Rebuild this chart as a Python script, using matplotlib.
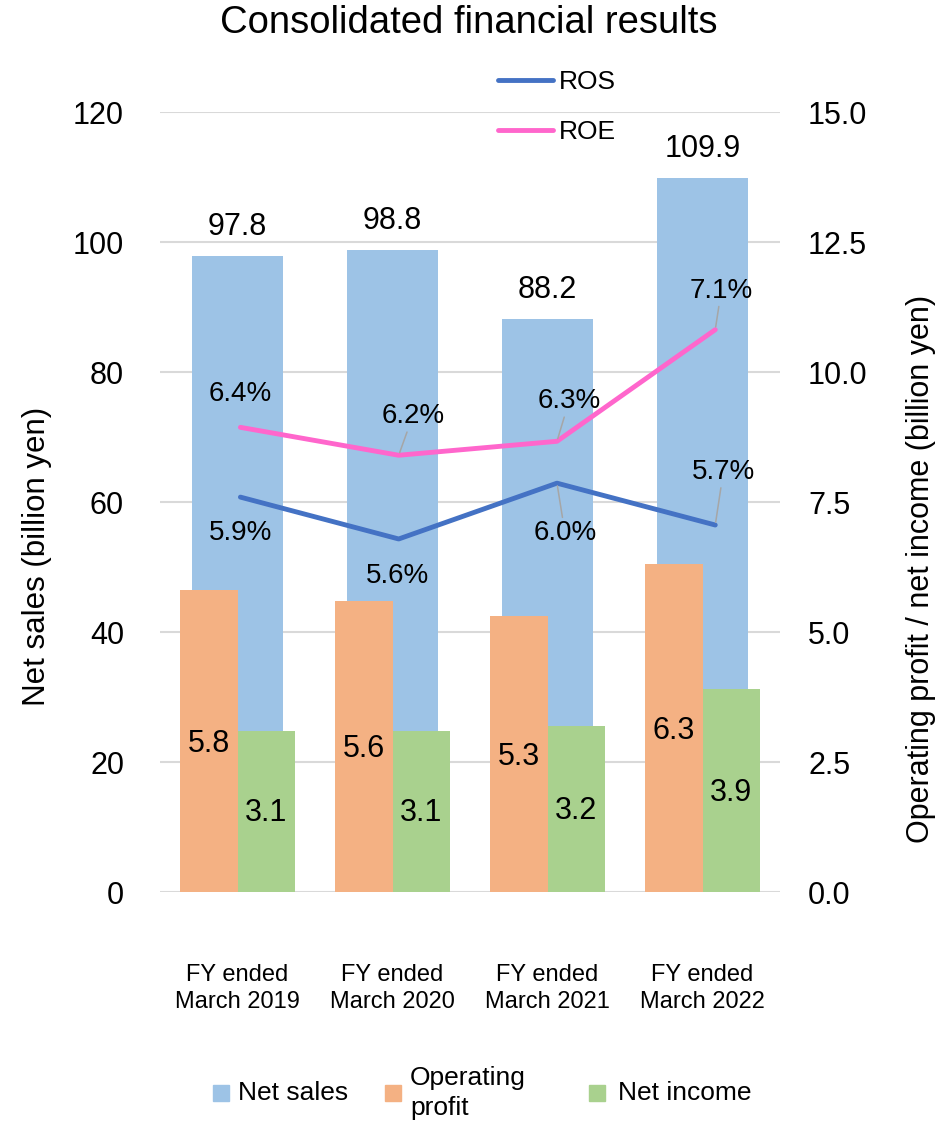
import matplotlib
matplotlib.use("Agg")
import matplotlib.pyplot as plt
from matplotlib.patches import Rectangle
import numpy as np

plt.rcParams['font.family'] = ['Liberation Sans', 'DejaVu Sans']

# ---- data ----
categories = ["FY ended\nMarch 2019", "FY ended\nMarch 2020",
              "FY ended\nMarch 2021", "FY ended\nMarch 2022"]
net_sales = [97.8, 98.8, 88.2, 109.9]          # billion yen (left axis)
operating_profit = [5.8, 5.6, 5.3, 6.3]        # billion yen (right axis)
net_income = [3.1, 3.1, 3.2, 3.9]              # billion yen (right axis)
ros = [5.9, 5.6, 6.0, 5.7]                     # %
roe = [6.4, 6.2, 6.3, 7.1]                     # %
left_ticks = [0, 20, 40, 60, 80, 100, 120]
right_ticks = [0.0, 2.5, 5.0, 7.5, 10.0, 12.5, 15.0]

# ---- styling ----
BLUE = '#9dc3e6'
ORANGE = '#f4b183'
GREEN = '#a9d18e'
ROS_C = '#4472c4'
ROE_C = '#ff66cc'
GRID = '#d9d9d9'
LEADER = '#a6a6a6'

W, H, DPI = 947, 1121, 100
fig = plt.figure(figsize=(W / DPI, H / DPI), dpi=DPI)


def fx(px):
    return px / W


def fy(py):
    return 1 - py / H


def pt(px):
    return px * 72 / DPI


L, R, T, B = 160, 780, 112, 892
rect = [fx(L), fy(B), fx(R) - fx(L), fy(T) - fy(B)]

x = np.arange(len(categories))

# Net sales on the primary axis
ax = fig.add_axes(rect)
ax.bar(x, net_sales, width=0.59, color=BLUE, zorder=2)
ax.set_xlim(-0.5, 3.5)
ax.set_ylim(0, 120)
ax.set_yticks(left_ticks)
ax.grid(axis='y', color=GRID, lw=1.5, zorder=0)
ax.set_axisbelow(True)
for s in ax.spines.values():
    s.set_visible(False)
ax.tick_params(axis='both', length=0)
ax.tick_params(axis='y', labelsize=22, pad=pt(36))
ax.set_xticks(x)
ax.set_xticklabels(categories, fontsize=17, linespacing=1.3)
ax.tick_params(axis='x', pad=pt(72))
for xi, v in zip(x, net_sales):
    ax.annotate(f"{v:.1f}", (xi, v), xytext=(0, pt(29)), textcoords='offset points',
                ha='center', va='center', fontsize=22)

# Operating profit / net income on the secondary axis
ax2 = ax.twinx()
bw = 0.37
ax2.bar(x - bw / 2, operating_profit, width=bw, color=ORANGE, zorder=2)
ax2.bar(x + bw / 2, net_income, width=bw, color=GREEN, zorder=2)
ax2.set_ylim(0, 15)
ax2.set_yticks(right_ticks)
ax2.set_yticklabels([f"{t:.1f}" for t in right_ticks])
for s in ax2.spines.values():
    s.set_visible(False)
ax2.tick_params(axis='y', length=0, labelsize=22, pad=pt(28))
for xi, v in zip(x, operating_profit):
    ax2.annotate(f"{v:.1f}", (xi - bw / 2, v / 2), xytext=(0, -pt(3)), textcoords='offset points',
                 ha='center', va='center', fontsize=22)
for xi, v in zip(x, net_income):
    ax2.annotate(f"{v:.1f}", (xi + bw / 2, v / 2), xytext=(0, -pt(2)), textcoords='offset points',
                 ha='center', va='center', fontsize=22)

# ROS / ROE lines on their own hidden percentage axis
axl = fig.add_axes(rect)
axl.set_xlim(-0.508, 3.409)
axl.set_ylim(3.07, 8.66)
axl.axis('off')
axl.patch.set_alpha(0)
l_ros, = axl.plot(x, ros, color=ROS_C, lw=3.5, solid_capstyle='round', solid_joinstyle='round')
l_roe, = axl.plot(x, roe, color=ROE_C, lw=3.5, solid_capstyle='round', solid_joinstyle='round')

# label offsets in pixels (dx, dy; dy positive = down) and whether a leader line is drawn
roe_offsets = [(0, -33, False), (14, -39, True), (12, -40, True), (6, -39, True)]
ros_offsets = [(0, 36, False), (-1, 37, False), (8, 50, True), (8, -53, True)]
for series, offs in ((roe, roe_offsets), (ros, ros_offsets)):
    for xi, v, (dx, dy, lead) in zip(x, series, offs):
        kw = {}
        if lead:
            kw['arrowprops'] = dict(arrowstyle='-', color=LEADER, lw=1.1,
                                    shrinkA=0, shrinkB=2)
        axl.annotate(f"{v:.1f}%", (xi, v), xytext=(pt(dx), -pt(dy)),
                     textcoords='offset points', ha='center', va='center',
                     fontsize=20, **kw)

# Title and axis titles
fig.text(fx(469), fy(23), "Consolidated financial results", ha='center', va='center',
         fontsize=27.5)
fig.text(fx(37), fy(556), "Net sales (billion yen)", rotation=90, ha='center', va='center',
         fontsize=22.5)
fig.text(fx(921), fy(569), "Operating profit / net income (billion yen)", rotation=90,
         ha='center', va='center', fontsize=22)

# Line legend at the top
fig.legend(handles=[l_ros, l_roe], labels=["ROS", "ROE"], loc='upper left',
           bbox_to_anchor=(fx(498), fy(70)), frameon=False, fontsize=19,
           handlelength=2.08, handletextpad=0.23, labelspacing=0.98,
           borderpad=0, borderaxespad=0)

# Bar legend at the bottom
sq = 16
for sx, tx, color, label in ((213, 238, BLUE, "Net sales"),
                             (385, 410, ORANGE, "Operating\nprofit"),
                             (589, 618, GREEN, "Net income")):
    fig.patches.append(Rectangle((fx(sx), fy(1085 + sq)), fx(sq), sq / H,
                                 transform=fig.transFigure, color=color))
    fig.text(fx(tx), fy(1093), label, ha='left', va='center', fontsize=19,
             linespacing=1.3)

fig.savefig("out.png", dpi=DPI)
